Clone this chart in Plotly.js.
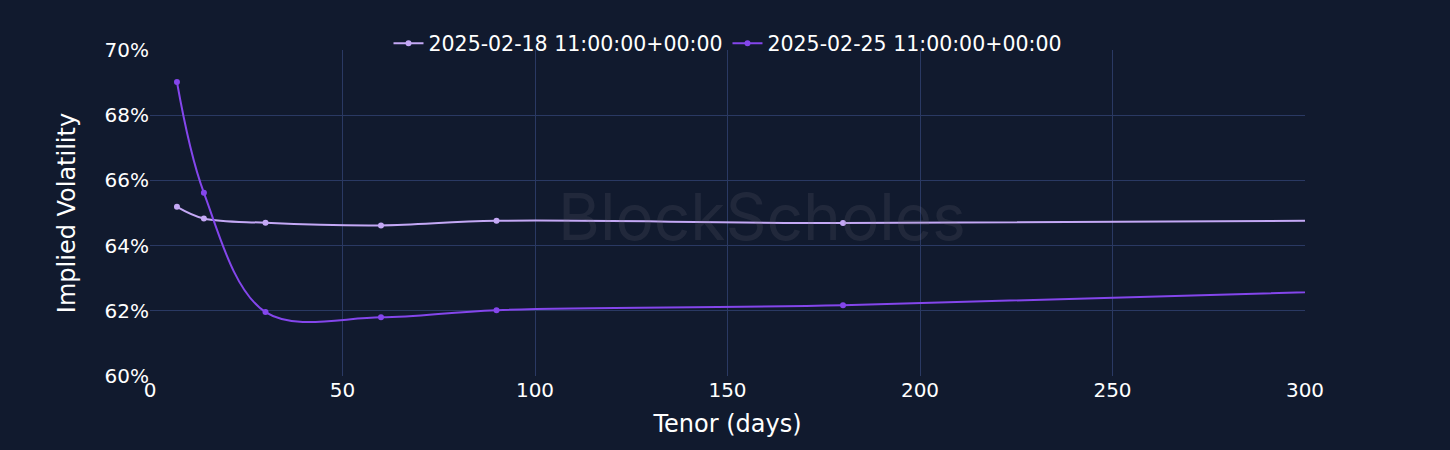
<!DOCTYPE html>
<html><head><meta charset="utf-8">
<script src="https://cdn.plot.ly/plotly-3.0.1.min.js"></script>
<style>html,body{margin:0;padding:0;background:#111a2e;}</style>
</head><body><div id="chart" style="width:1450px;height:450px;"></div>
<script>
const tenors = [7, 14, 30, 60, 90, 180, 365];
const seriesNames = ["2025-02-18 11:00:00+00:00", "2025-02-25 11:00:00+00:00"];
const iv0218 = [65.19, 64.83, 64.70, 64.62, 64.76, 64.69, 64.80];
const iv0225 = [69.02, 65.62, 61.96, 61.80, 62.02, 62.17, 62.78];
const colors = ["#c4a8f5", "#8446ec"];

const traces = [iv0218, iv0225].map((vals, i) => ({
  x: tenors, y: vals.map(v => v / 100), name: seriesNames[i],
  type: "scatter", mode: "lines+markers",
  line: {shape: "spline", color: colors[i], width: 2},
  marker: {size: 6, color: colors[i]}
}));

const layout = {
  width: 1450, height: 450,
  paper_bgcolor: "#111a2e", plot_bgcolor: "#111a2e",
  font: {family: "DejaVu Sans, Verdana, sans-serif", color: "#ffffff", size: 20},
  margin: {l: 150, r: 145, t: 50, b: 74},
  showlegend: true,
  legend: {orientation: "h", x: 0.5, xanchor: "center", y: 1.02, yanchor: "middle", font: {size: 20.5}, bgcolor: "rgba(0,0,0,0)"},
  xaxis: {range: [0, 300], dtick: 50, gridcolor: "#2a3963", zeroline: false, showline: false,
    title: {text: "Tenor (days)", font: {size: 24}, standoff: 14}, tickfont: {size: 20}},
  yaxis: {range: [0.60, 0.70], dtick: 0.02, tickformat: ".0%", gridcolor: "#2a3963", zeroline: false,
    title: {text: "Implied Volatility", font: {size: 24}, standoff: 22}, tickfont: {size: 20}},
  annotations: [{
    text: "BlockScholes", xref: "paper", yref: "paper", x: 0.53, y: 0.49,
    showarrow: false, font: {size: 64, color: "rgba(120,120,130,0.16)", family: "Inter, DejaVu Sans, sans-serif"}
  }]
};
Plotly.newPlot("chart", traces, layout, {displayModeBar: false});
</script></body></html>
